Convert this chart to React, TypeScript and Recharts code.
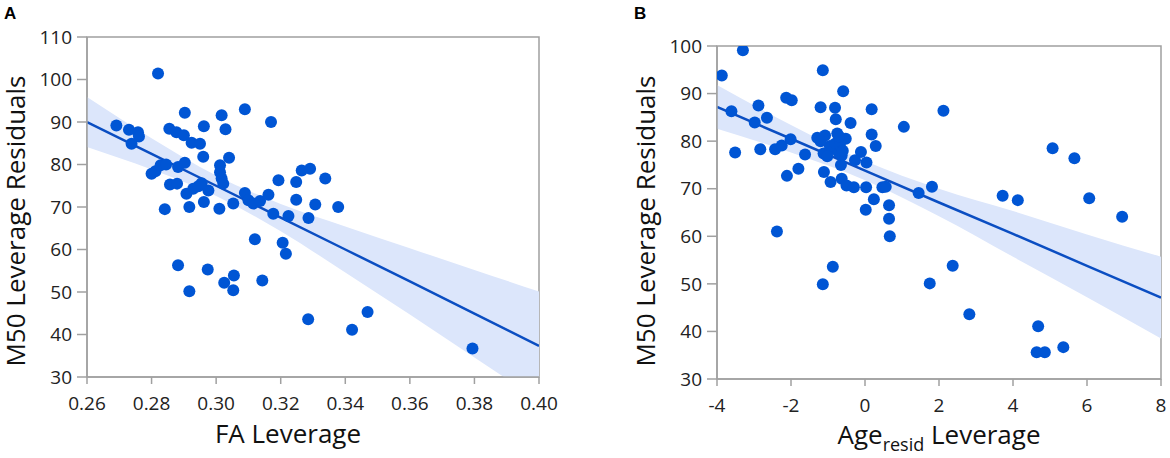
import React from "react";
import {
  Area,
  ComposedChart,
  Line,
  ReferenceArea,
  Scatter,
  XAxis,
  YAxis,
} from "recharts";

// Panel A: FA leverage vs M50 leverage residuals
const aX = [
  0.282, 0.2691, 0.273, 0.2758, 0.2761, 0.2738, 0.2903, 0.2855, 0.2877, 0.29,
  0.2924, 0.295, 0.2962, 0.3017, 0.3029, 0.3089, 0.317, 0.296, 0.304, 0.28,
  0.2812, 0.2828, 0.2845, 0.2882, 0.2903, 0.2857, 0.2879, 0.2908, 0.2929,
  0.2945, 0.2976, 0.2955, 0.3012, 0.3012, 0.3017, 0.3022, 0.2841, 0.2917,
  0.2962, 0.301, 0.3053, 0.3089, 0.31, 0.3115, 0.3136, 0.3162, 0.3177, 0.3193,
  0.3224, 0.3248, 0.3248, 0.3265, 0.3291, 0.3286, 0.3307, 0.312, 0.3206,
  0.3216, 0.2882, 0.2917, 0.2974, 0.3025, 0.3055, 0.3053, 0.3143, 0.3285,
  0.3338, 0.3378, 0.3421, 0.3469, 0.3794,
];
const aY = [
  101.4, 89.2, 88.2, 87.6, 86.6, 84.9, 92.2, 88.4, 87.6, 86.9, 85.1, 84.9, 89.0,
  91.6, 88.3, 93.0, 90.0, 81.8, 81.6, 77.8, 78.4, 79.8, 80.0, 79.4, 80.4, 75.3,
  75.5, 73.1, 74.3, 74.9, 73.9, 75.6, 79.8, 78.2, 76.7, 75.5, 69.5, 70.0, 71.2,
  69.6, 70.8, 73.3, 71.6, 70.8, 71.4, 72.9, 68.4, 76.3, 67.9, 75.9, 71.7, 78.6,
  79.0, 67.4, 70.6, 62.4, 61.6, 59.0, 56.3, 50.2, 55.3, 52.2, 53.9, 50.4, 52.7,
  43.6, 76.7, 70.0, 41.1, 45.3, 36.7,
];
const aTicksX = [0.26, 0.28, 0.3, 0.32, 0.34, 0.36, 0.38, 0.4];
const aTicksY = [30, 40, 50, 60, 70, 80, 90, 100, 110];
const aFit = [90.0, 82.5, 75.0, 67.5, 60.0, 52.5, 44.9, 37.3];
const aLower = [84.1, 78.8, 72.6, 64.3, 54.6, 44.7, 34.6, 24.5];
const aUpper = [95.9, 86.2, 77.4, 70.7, 65.4, 60.3, 55.2, 50.1];

// Panel B: Age(resid) leverage vs M50 leverage residuals
const bX = [
  -3.3, -3.87, -3.61, -3.51, -2.98, -2.88, -2.83, -2.65, -2.43, -2.25, -2.13,
  -1.98, -2.01, -2.11, -2.38, -1.8, -1.62, -1.14, -1.2, -1.29, -1.08, -1.12,
  -1.11, -0.93, -1.14, -0.87, -0.81, -0.79, -0.59, -0.39, -0.75, -0.86, -0.72,
  -0.63, -0.52, -0.65, -0.63, -0.5, -0.3, -0.11, 0.04, -0.27, 0.18, 0.18, 0.29,
  0.03, 0.02, 0.24, 0.47, 0.56, 0.65, 0.65, 0.67, 1.05, 1.45, 1.81, 1.75, 2.12,
  2.37, 2.82, 3.72, 4.13, 5.07, 5.66, 6.06, 6.95, 4.68, 4.64, 4.86, 5.36, -0.95,
  -0.8, -0.68, -0.6, -1.02, -0.7, -1.2,
];
const bY = [
  99.1, 93.8, 86.3, 77.6, 83.9, 87.5, 78.3, 84.9, 78.3, 79.1, 89.1, 88.6, 80.4,
  72.7, 61.0, 74.2, 77.2, 94.9, 87.1, 80.7, 81.2, 77.4, 73.5, 71.4, 49.9, 53.6,
  87.0, 84.6, 90.5, 83.8, 81.6, 78.4, 77.7, 77.0, 80.5, 75.0, 72.1, 70.7, 70.3,
  77.7, 75.5, 76.0, 86.7, 81.4, 79.0, 70.3, 65.6, 67.8, 70.3, 70.4, 66.5, 63.7,
  60.0, 83.0, 69.1, 70.4, 50.1, 86.4, 53.8, 43.6, 68.5, 67.6, 78.5, 76.4, 68.0,
  64.1, 41.1, 35.6, 35.6, 36.7, 79.0, 79.5, 79.2, 78.0, 76.8, 81.0, 80.0,
];
const bTicksX = [-4, -2, 0, 2, 4, 6, 8];
const bTicksY = [30, 40, 50, 60, 70, 80, 90, 100];
const bFit = [87.2, 80.5, 73.8, 67.1, 60.5, 53.8, 47.1];
const bLower = [82.6, 77.6, 71.8, 64.2, 55.7, 47.2, 38.5];
const bUpper = [91.8, 83.4, 75.8, 70.0, 65.3, 60.4, 55.7];

const DOT = "#0055d4";
const LINE = "#0b4ec2";
const BAND = "#dce6fb";
const AXIS = "#a0a0a0";
const FONT = "'Open Sans', 'Noto Sans', sans-serif";

const Dot = (props: any) => <circle cx={props.cx} cy={props.cy} r={6} fill={DOT} />;

interface PanelProps {
  xs: number[];
  ys: number[];
  ticksX: number[];
  ticksY: number[];
  fit: number[];
  lower: number[];
  upper: number[];
  left: number;
  margin: { top: number; right: number; bottom: number; left: number };
  fmt: (v: number) => string;
}

const Panel: React.FC<PanelProps> = (p) => {
  const points = p.xs.map((x, i) => ({ x, y: p.ys[i] }));
  const band = p.ticksX.map((x, i) => ({
    x,
    fit: p.fit[i],
    band: [p.lower[i], p.upper[i]],
  }));
  const xd: [number, number] = [p.ticksX[0], p.ticksX[p.ticksX.length - 1]];
  const yd: [number, number] = [p.ticksY[0], p.ticksY[p.ticksY.length - 1]];
  const tick = { fill: "#222", fontSize: 19, fontFamily: FONT };
  return (
    <div style={{ position: "absolute", left: p.left, top: 0 }}>
      <ComposedChart width={580} height={458} data={band} margin={p.margin}>
        <XAxis
          dataKey="x"
          type="number"
          domain={xd}
          ticks={p.ticksX}
          allowDataOverflow
          tickFormatter={p.fmt}
          height={30}
          tickSize={7}
          tickMargin={13}
          stroke={AXIS}
          strokeWidth={1.5}
          tick={tick}
        />
        <YAxis
          type="number"
          domain={yd}
          ticks={p.ticksY}
          allowDataOverflow
          width={60}
          tickSize={10}
          tickMargin={5}
          stroke={AXIS}
          strokeWidth={1.5}
          tick={tick}
        />
        <ReferenceArea
          x1={xd[0]}
          x2={xd[1]}
          y1={yd[0]}
          y2={yd[1]}
          fill="none"
          stroke={AXIS}
          strokeWidth={1.5}
        />
        <Area
          dataKey="band"
          type="monotone"
          stroke="none"
          fill={BAND}
          fillOpacity={1}
          isAnimationActive={false}
        />
        <Line
          dataKey="fit"
          type="linear"
          stroke={LINE}
          strokeWidth={2.5}
          dot={false}
          isAnimationActive={false}
        />
        <Scatter data={points} dataKey="y" shape={Dot} isAnimationActive={false} />
      </ComposedChart>
    </div>
  );
};

const titleStyle = { fontFamily: FONT, fontSize: 26, fill: "#111" };

const App: React.FC = () => {
  return (
    <div
      style={{
        position: "absolute",
        left: 0,
        top: 0,
        width: 1170,
        height: 458,
        background: "#fff",
      }}
    >
      <Panel
        xs={aX}
        ys={aY}
        ticksX={aTicksX}
        ticksY={aTicksY}
        fit={aFit}
        lower={aLower}
        upper={aUpper}
        left={0}
        margin={{ top: 37, right: 41, bottom: 51, left: 27 }}
        fmt={(v) => v.toFixed(2)}
      />
      <Panel
        xs={bX}
        ys={bY}
        ticksX={bTicksX}
        ticksY={bTicksY}
        fit={bFit}
        lower={bLower}
        upper={bUpper}
        left={590}
        margin={{ top: 46, right: 9, bottom: 49, left: 67 }}
        fmt={(v) => String(v)}
      />
      <svg
        width={1170}
        height={458}
        style={{ position: "absolute", left: 0, top: 0, pointerEvents: "none" }}
      >
        <text x={4} y={19} fontFamily="Arial, 'Liberation Sans'" fontWeight="bold" fontSize={17}>
          A
        </text>
        <text x={634} y={19} fontFamily="Arial, 'Liberation Sans'" fontWeight="bold" fontSize={17}>
          B
        </text>
        <text x={25} y={221} transform="rotate(-90 25 221)" textAnchor="middle" style={titleStyle}>
          M50 Leverage Residuals
        </text>
        <text x={655} y={221} transform="rotate(-90 655 221)" textAnchor="middle" style={titleStyle}>
          M50 Leverage Residuals
        </text>
        <text x={288} y={443} textAnchor="middle" style={titleStyle}>
          FA Leverage
        </text>
        <text x={939} y={444} textAnchor="middle" style={titleStyle}>
          <tspan>Age</tspan>
          <tspan fontSize={18} dy={7}>
            resid
          </tspan>
          <tspan dy={-7}> Leverage</tspan>
        </text>
      </svg>
    </div>
  );
};

export default App;
